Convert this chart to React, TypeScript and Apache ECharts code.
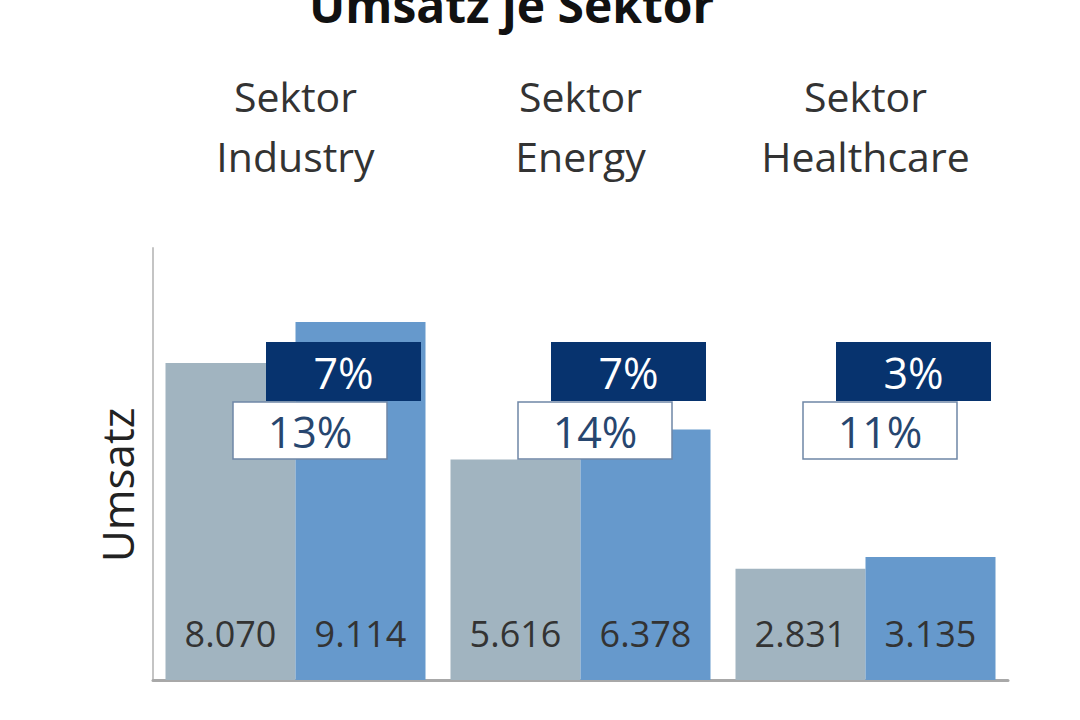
import React, { useEffect, useRef } from "react";
import * as echarts from "echarts";

const categories = ["Sektor\nIndustry", "Sektor\nEnergy", "Sektor\nHealthcare"];
const revenuePrev = [8070, 5616, 2831];
const revenueCurr = [9114, 6378, 3135];
const growthNominal = ["13%", "14%", "11%"];
const growthComparable = ["7%", "7%", "3%"];

const FONT = "'Open Sans', 'Noto Sans', sans-serif";

function fmt(v: number): string {
  const s = Math.round(v).toString();
  return s.replace(/\B(?=(\d{3})+(?!\d))/g, ".");
}

export default function App() {
  const ref = useRef<HTMLDivElement>(null);
  useEffect(() => {
    if (!ref.current) return;
    const chart = echarts.init(ref.current, null, { renderer: "svg" });
    const labelStyle = {
      show: true,
      position: "insideBottom" as const,
      distance: 29,
      fontSize: 36,
      fontFamily: FONT,
      color: "#333333",
      formatter: (p: any) => fmt(p.value),
    };
    chart.setOption({
      animation: false,
      backgroundColor: "#ffffff",
      title: {
        text: "Umsatz je Sektor",
        left: 304,
        top: -25,
        textStyle: { fontSize: 48, fontWeight: "bold", fontFamily: FONT, color: "#111111" },
      },
      grid: { left: 153, right: 72, top: 248, bottom: 40 },
      xAxis: [
        {
          type: "category",
          data: categories,
          axisLine: { show: true, lineStyle: { color: "#a8a8a8", width: 3 } },
          axisTick: { show: false },
          axisLabel: { show: false },
        },
        {
          type: "category",
          position: "top",
          data: categories,
          axisLine: { show: false },
          axisTick: { show: false },
          axisLabel: {
            show: true,
            margin: 62,
            fontSize: 41,
            lineHeight: 60,
            fontFamily: FONT,
            color: "#333333",
          },
        },
      ],
      yAxis: {
        type: "value",
        min: 0,
        max: 11000,
        name: "Umsatz",
        nameLocation: "middle",
        nameGap: 14,
        nameTextStyle: {
          fontSize: 44,
          fontFamily: FONT,
          color: "#222222",
          padding: [0, 42, 0, 0],
        },
        axisLine: { show: true, lineStyle: { color: "#c4c4c4", width: 2 } },
        axisTick: { show: false },
        axisLabel: { show: false },
        splitLine: { show: false },
      },
      series: [
        {
          type: "bar",
          name: "prev",
          data: revenuePrev,
          barWidth: 130,
          barGap: "0%",
          itemStyle: { color: "#a1b4c0" },
          label: labelStyle,
        },
        {
          type: "bar",
          name: "curr",
          data: revenueCurr,
          barWidth: 130,
          barGap: "0%",
          itemStyle: { color: "#6699cc" },
          label: labelStyle,
        },
        {
          type: "custom",
          z: 10,
          data: categories.map((_, i) => [i, 0]),
          encode: { x: 0, y: 1 },
          renderItem: (params: any, api: any) => {
            const i = api.value(0);
            const cx = api.coord([i, 0])[0];
            const top = params.coordSys.y;
            const navyX = cx - 29.5;
            const navyY = top + 94;
            const whiteX = cx - 62.5;
            const whiteY = top + 154;
            return {
              type: "group",
              children: [
                {
                  type: "rect",
                  shape: { x: whiteX, y: whiteY, width: 154, height: 57 },
                  style: { fill: "#ffffff", stroke: "#6f86a6", lineWidth: 1.5 },
                },
                {
                  type: "text",
                  style: {
                    x: whiteX + 77,
                    y: whiteY + 29,
                    text: growthNominal[i],
                    align: "center",
                    verticalAlign: "middle",
                    fontSize: 43,
                    fontFamily: FONT,
                    fill: "#27466f",
                  },
                },
                {
                  type: "rect",
                  shape: { x: navyX, y: navyY, width: 155, height: 59 },
                  style: { fill: "#07336e" },
                },
                {
                  type: "text",
                  style: {
                    x: navyX + 77.5,
                    y: navyY + 30,
                    text: growthComparable[i],
                    align: "center",
                    verticalAlign: "middle",
                    fontSize: 43,
                    fontFamily: FONT,
                    fill: "#ffffff",
                  },
                },
              ],
            };
          },
        },
      ],
    });
    return () => chart.dispose();
  }, []);
  return (
    <div
      ref={ref}
      style={{ position: "fixed", left: 0, top: 0, width: 1080, height: 720 }}
    />
  );
}
